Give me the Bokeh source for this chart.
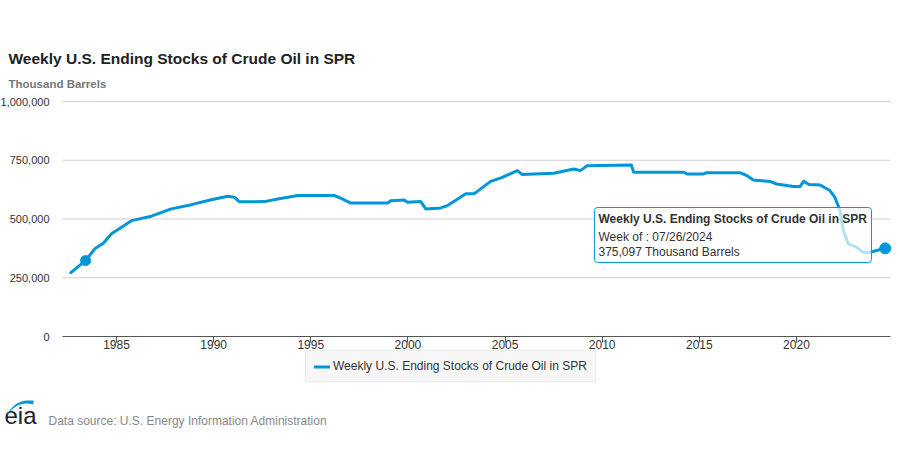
from bokeh.plotting import figure
from bokeh.models import (Range1d, NumeralTickFormatter, FixedTicker, Label, BoxAnnotation,
                          Legend, LegendItem, PolyAnnotation)
from bokeh.embed import file_html
from bokeh.resources import INLINE
import numpy as np

# ---- data ----
years = [1982.65, 1983.41, 1983.88, 1984.32, 1984.74, 1985.26, 1985.77, 1986.80, 1987.82,
         1988.85, 1989.88, 1990.74, 1991.08, 1991.33, 1992.62, 1993.30, 1994.33, 1996.21,
         1996.56, 1997.07, 1998.95, 1999.12, 1999.81, 1999.98, 2000.66, 2000.92, 2001.69,
         2002.04, 2002.98, 2003.40, 2004.26, 2004.86, 2005.63, 2005.89, 2006.48, 2007.51,
         2008.54, 2008.88, 2009.23, 2011.50, 2011.62, 2014.19, 2014.36, 2015.22, 2015.39,
         2017.10, 2017.44, 2017.78, 2018.64, 2018.98, 2019.84, 2020.18, 2020.37, 2020.65,
         2021.22, 2021.72, 2021.98, 2022.24, 2022.41, 2022.67, 2023.09, 2023.43, 2023.78,
         2024.12, 2024.57]
stocks = [272000, 323000, 373000, 397000, 437000, 465000, 493000, 512000, 543000,
          561000, 582000, 597000, 592000, 573000, 574000, 585000, 600000, 600000,
          588000, 568000, 568000, 578000, 581000, 571000, 574000, 543000, 547000,
          557000, 607000, 607000, 660000, 677000, 706000, 689000, 692000, 695000,
          713000, 706000, 727000, 730000, 699000, 699000, 692000, 692000, 697000,
          697000, 685000, 666000, 660000, 649000, 638000, 638000, 660000, 647000,
          645000, 621000, 592000, 536000, 451000, 394000, 380000, 358000, 358000,
          366000, 375097]
marker_years = [1983.41]
marker_stocks = [323000]
last_year = [2024.57]
last_stock = [375097]
x_ticks = [1985, 1990, 1995, 2000, 2005, 2010, 2015, 2020]
y_ticks = [0, 250000, 500000, 750000, 1000000]
x_start, x_end = 1982.22, 2024.84
y_start, y_end = 0, 1000000
series_name = "Weekly U.S. Ending Stocks of Crude Oil in SPR"
tooltip_lines = ["Weekly U.S. Ending Stocks of Crude Oil in SPR",
                 "Week of : 07/26/2024",
                 "375,097 Thousand Barrels"]

BLUE = "#0096d7"
FONT = "Liberation Sans"
W, H = 900, 450
# plot area in page pixels
PL, PR, PT, PB = 62, 890, 101, 336

xpp = (x_end - x_start) / (PR - PL)
ypp = (y_end - y_start) / (PB - PT)
X0, X1 = x_start - PL * xpp, x_end + (W - PR) * xpp
Y0, Y1 = y_start - (H - PB) * ypp, y_end + PT * ypp


def sx(px):
    return px


def sy(py):
    return H - py


p = figure(width=W, height=H, output_backend="svg", toolbar_location=None,
           x_range=Range1d(X0, X1), y_range=Range1d(Y0, Y1),
           min_border_left=0, min_border_right=0, min_border_top=0, min_border_bottom=0)
p.outline_line_color = None
p.background_fill_color = "white"
p.border_fill_color = "white"

# axes placed at the plot-area edges
p.xaxis.fixed_location = y_start
p.xaxis.bounds = (x_start, x_end)
p.xaxis.ticker = FixedTicker(ticks=x_ticks)
p.xaxis.axis_line_color = "#555555"
p.xaxis.major_tick_line_color = "#555555"
p.xaxis.major_tick_in = 0
p.xaxis.major_tick_out = 6
p.xaxis.minor_tick_line_color = None
p.xaxis.major_label_standoff = -3
p.xaxis.major_label_text_font = FONT
p.xaxis.major_label_text_font_size = "12px"
p.xaxis.major_label_text_color = "#333333"

p.yaxis.fixed_location = x_start
p.yaxis.bounds = (y_start - 50000, y_end + 50000)
p.yaxis.ticker = FixedTicker(ticks=y_ticks)
p.yaxis.formatter = NumeralTickFormatter(format="0,0")
p.yaxis.axis_line_color = None
p.yaxis.major_tick_line_color = None
p.yaxis.minor_tick_line_color = None
p.yaxis.major_label_standoff = 7
p.yaxis.major_label_text_font = FONT
p.yaxis.major_label_text_font_size = "11px"
p.yaxis.major_label_text_color = "#333333"

p.xgrid.grid_line_color = None
p.ygrid.grid_line_color = None
grid_y = y_ticks[1:]
p.segment(x0=[x_start] * len(grid_y), y0=grid_y, x1=[x_end] * len(grid_y), y1=grid_y,
          line_color="#d0d0d0", line_width=1, level="underlay")

line_r = p.line(years, stocks, line_color=BLUE, line_width=3, line_join="round", line_cap="round")
p.scatter(marker_years, marker_stocks, size=10, color=BLUE)
p.scatter(last_year, last_stock, size=11, color=BLUE)

# tooltip box (anchored left of the last point)
tx0 = last_year[0] - 14.97
tx1 = last_year[0] - 0.71
p.add_layout(BoxAnnotation(left=tx0, right=tx1, top=549000, bottom=315000,
                           fill_color="white", fill_alpha=0.7, line_color=BLUE,
                           line_alpha=1, line_width=1, border_radius=3))
for i, (txt, yv) in enumerate(zip(tooltip_lines, [502000, 425500, 357500])):
    p.add_layout(Label(x=tx0 + 0.21, y=yv, text=txt, text_font=FONT, text_font_size="12px",
                       text_font_style="bold" if i == 0 else "normal",
                       text_color="#333333", text_baseline="middle"))

# legend
legend = Legend(items=[LegendItem(label=series_name, renderers=[line_r])],
                location=(sx(305), sy(382)), orientation="horizontal",
                background_fill_color="#f7f7f7", background_fill_alpha=1,
                border_line_color="#dddddd", label_text_font=FONT,
                label_text_font_size="12px", label_text_color="#333333",
                glyph_width=16, glyph_height=9, label_height=9, padding=8, margin=0,
                label_standoff=3, spacing=0)
p.add_layout(legend)

p.add_layout(Label(x=sx(8), y=sy(58), x_units="screen", y_units="screen", text=series_name,
                   text_font=FONT, text_font_size="15.5px", text_font_style="bold",
                   text_color="#222222", text_baseline="middle"))
p.add_layout(Label(x=sx(8), y=sy(83), x_units="screen", y_units="screen", text="Thousand Barrels",
                   text_font=FONT, text_font_size="11.5px", text_font_style="bold",
                   text_color="#777777", text_baseline="middle"))
p.add_layout(Label(x=sx(48), y=sy(420), x_units="screen", y_units="screen",
                   text="Data source: U.S. Energy Information Administration",
                   text_font=FONT, text_font_size="12px", text_color="#888888",
                   text_baseline="middle"))
p.add_layout(Label(x=sx(4), y=sy(415), x_units="screen", y_units="screen", text="eia",
                   text_font=FONT, text_font_size="24px", text_color="#222222",
                   text_baseline="middle"))
# eia swoosh (quadratic curve with growing thickness)
t = np.linspace(0, 1, 24)
P0, P1, P2 = np.array([7.0, 414.0]), np.array([16.0, 399.0]), np.array([33.0, 402.0])
curve = ((1 - t) ** 2)[:, None] * P0 + (2 * (1 - t) * t)[:, None] * P1 + (t ** 2)[:, None] * P2
d = np.gradient(curve, axis=0)
nrm = np.stack([-d[:, 1], d[:, 0]], axis=1)
nrm /= np.linalg.norm(nrm, axis=1)[:, None]
thick = 0.6 + 3.0 * t
outer = curve - nrm * (thick / 2)[:, None]
inner = curve + nrm * (thick / 2)[:, None]
poly = np.vstack([outer, inner[::-1]])
p.add_layout(PolyAnnotation(xs=[sx(v) for v in poly[:, 0]], ys=[sy(v) for v in poly[:, 1]],
                            xs_units="screen", ys_units="screen",
                            fill_color=BLUE, fill_alpha=1, line_color=None))

open("out.html", "w").write(file_html(p, INLINE))
